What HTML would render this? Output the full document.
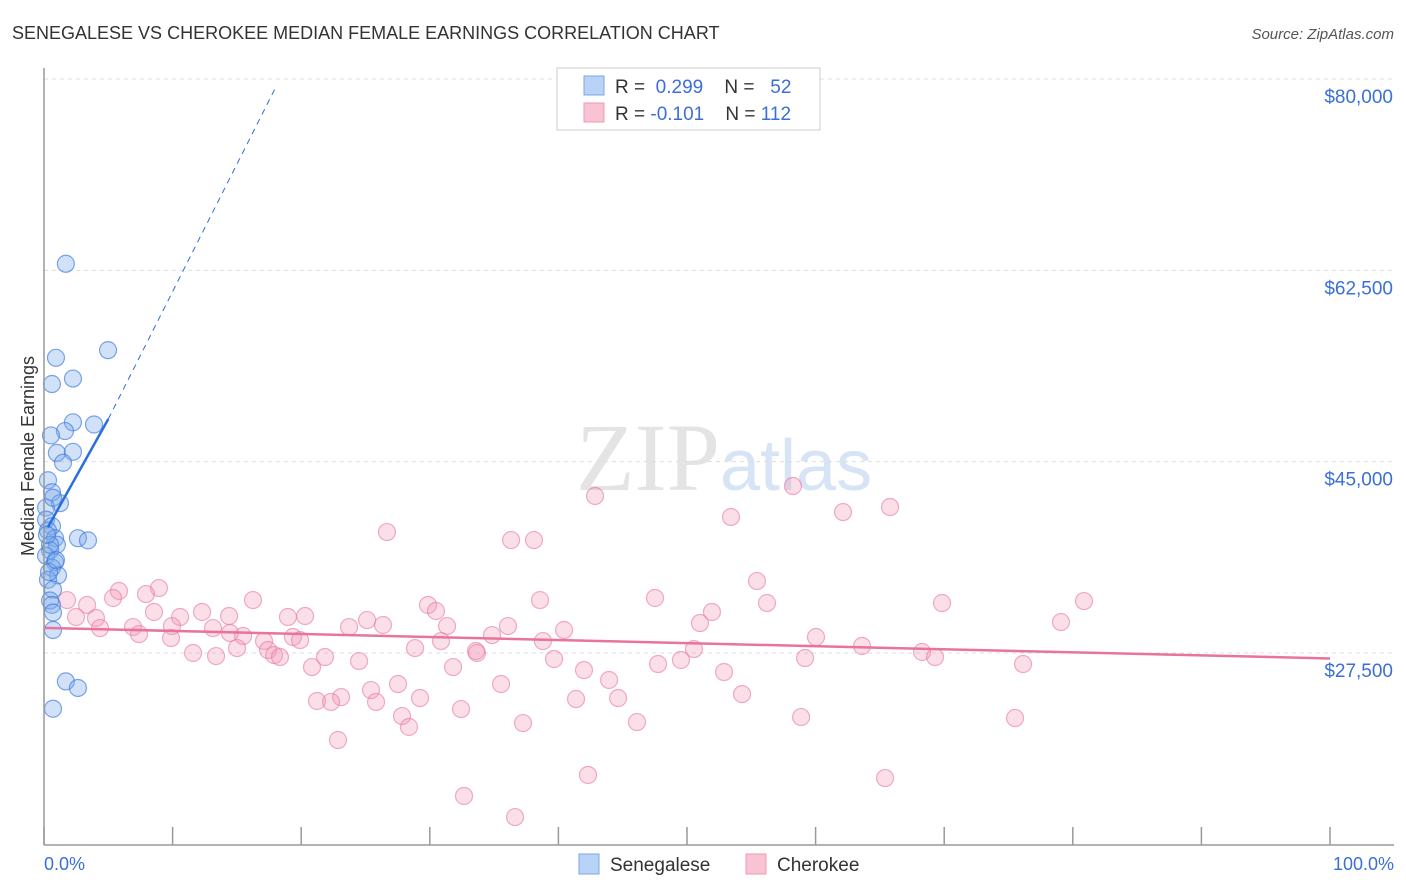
<!DOCTYPE html>
<html><head><meta charset="utf-8">
<style>
body{margin:0;background:#fff;font-family:"Liberation Sans",sans-serif;}
#wrap{position:relative;width:1406px;height:892px;overflow:hidden;}
</style></head>
<body>
<div id="wrap">
<svg id="svg" width="1406" height="892" xmlns="http://www.w3.org/2000/svg">
<text x="12" y="39" font-size="18" fill="#333">SENEGALESE VS CHEROKEE MEDIAN FEMALE EARNINGS CORRELATION CHART</text>
<text x="1394" y="39" font-size="15" fill="#555" text-anchor="end" font-style="italic">Source: ZipAtlas.com</text>
<text x="720" y="490" font-size="96" fill="#e4e4e4" text-anchor="end" font-family="Liberation Serif">ZIP</text>
<text x="720" y="490" font-size="72" fill="#d6e4f5">atlas</text>
<text transform="translate(34,456) rotate(-90)" font-size="18" fill="#333" text-anchor="middle">Median Female Earnings</text>
<g id="grid"></g><g id="ticks"></g><g id="pts"></g><g id="lines"></g>
<line x1="44" y1="68" x2="44" y2="845" stroke="#999" stroke-width="1.5"/>
<line x1="44" y1="845" x2="1394" y2="845" stroke="#999" stroke-width="1.5"/>
<text x="44" y="870" font-size="18" fill="#3a6fd8">0.0%</text>
<text x="1394" y="870" font-size="18" fill="#3a6fd8" text-anchor="end">100.0%</text>
<g>
<rect x="557" y="68" width="263" height="62" fill="#fff" stroke="#ccc"/>
<rect x="584" y="76" width="20" height="19" fill="#b8d3f5" stroke="#7aa7e6"/>
<rect x="584" y="103" width="20" height="19" fill="#f8c4d4" stroke="#ec9ab3"/>
<text x="615" y="93" font-size="19" fill="#333">R = <tspan fill="#3a6fd8">&#160;0.299</tspan>&#160;&#160;&#160;&#160;N = <tspan fill="#3a6fd8">&#160;&#160;52</tspan></text>
<text x="615" y="120" font-size="19" fill="#333">R = <tspan fill="#3a6fd8">-0.101</tspan>&#160;&#160;&#160;&#160;N = <tspan fill="#3a6fd8">112</tspan></text>
</g>
<g>
<rect x="579" y="854" width="20" height="20" fill="#b8d3f5" stroke="#7aa7e6"/>
<text x="610" y="871" font-size="19" fill="#333">Senegalese</text>
<rect x="746" y="854" width="20" height="20" fill="#f8c4d4" stroke="#ec9ab3"/>
<text x="777" y="871" font-size="19" fill="#333">Cherokee</text>
</g>
</svg>
</div>
<script>
const yTicks=[27500,45000,62500,80000];
const yTickLabels=["$27,500","$45,000","$62,500","$80,000"];
const xTicks=[0,10,20,30,40,50,60,70,80,90,100];
const senX=[1.7,4.98,0.93,0.62,2.25,2.25,1.63,3.89,0.54,1.0,2.25,1.48,0.31,0.62,1.24,0.16,0.7,0.16,0.62,0.31,0.86,2.64,3.42,1.0,0.47,0.16,0.86,0.62,1.09,0.31,0.7,0.47,0.62,0.7,0.7,1.7,2.64,0.7,0.47,0.23,0.39,0.93];
const senY=[63.1,55.2,54.5,52.1,52.6,48.6,47.8,48.4,47.4,45.8,45.9,44.9,43.3,42.2,41.2,40.8,41.7,39.7,39.1,38.7,38.0,38.0,37.8,37.4,36.9,36.4,35.8,35.3,34.6,34.2,33.3,32.3,31.9,31.2,29.6,24.9,24.3,22.4,37.4,38.3,34.9,36.0];
const cheX=[42.85,58.24,53.42,62.13,65.79,26.67,36.32,38.10,55.44,8.94,5.83,7.93,16.25,29.86,38.57,47.51,56.22,69.83,80.87,1.79,3.35,5.37,8.55,10.58,12.29,14.39,18.97,20.30,25.12,26.36,30.48,36.08,40.44,51.94,51.01,79.08,2.49,4.04,6.92,4.36,9.95,13.14,14.46,15.48,17.11,19.36,19.91,23.72,31.34,34.84,38.80,60.03,63.61,7.39,9.88,11.59,13.38,15.01,17.42,17.89,18.35,28.85,30.87,33.59,33.67,39.66,47.75,49.53,50.54,59.18,68.28,69.29,76.13,20.84,21.85,24.50,31.81,41.99,52.88,43.94,27.53,35.54,25.43,23.10,21.23,22.32,25.82,29.24,41.37,44.64,54.28,27.84,28.38,32.43,37.25,46.11,58.87,75.51,22.86,42.30,65.40,32.66,36.63];
const cheY=[41.86,42.77,39.94,40.39,40.85,38.56,37.83,37.83,34.08,33.44,33.17,32.89,32.34,31.89,32.34,32.53,32.07,32.07,32.25,32.34,31.89,32.53,31.25,30.79,31.25,30.88,30.79,30.88,30.51,30.06,31.34,29.96,29.60,31.25,30.24,30.33,30.79,30.70,29.87,29.78,29.96,29.78,29.33,29.05,28.59,28.96,28.68,29.87,29.96,29.14,28.59,28.96,28.14,29.23,28.87,27.50,27.22,27.95,27.77,27.31,27.13,27.95,28.59,27.68,27.50,26.95,26.49,26.86,27.86,27.04,27.59,27.13,26.49,26.21,27.13,26.76,26.21,25.94,25.76,25.03,24.66,24.66,24.11,23.47,23.11,23.02,23.02,23.38,23.29,23.38,23.74,21.73,20.73,22.37,21.09,21.18,21.64,21.55,19.54,16.34,16.06,14.42,12.49];
const senLine=[[0.3,39.0],[5.0,48.9]], senDash=[[5.0,48.9],[18.0,79.2]];
const cheLine=[[0,29.8],[100,27.0]];
const X=p=>44+p*12.86, Y=v=>79+(80-v)*10.933;
const NS="http://www.w3.org/2000/svg";
function mk(tag,attrs,parent){const e=document.createElementNS(NS,tag);for(const k in attrs)e.setAttribute(k,attrs[k]);document.getElementById(parent).appendChild(e);return e;}
yTicks.forEach((t,i)=>{
 const g=mk('line',{x1:44,x2:1394,y1:Y(t/1000),y2:Y(t/1000),stroke:'#ddd','stroke-dasharray':'4,4'},'grid');
 
 
 const l=mk('text',{x:1393,y:Y(t/1000)+24,'font-size':19,fill:'#3a6fd8','text-anchor':'end'},'grid');
 l.textContent=yTickLabels[i];
 
 
});
xTicks.forEach(t=>{
 const e=mk('line',{x1:X(t),x2:X(t),y1:827,y2:845,stroke:'#999','stroke-width':1.5},'ticks');
 
 
});
cheX.forEach((x,i)=>{
 const c=mk('circle',{cx:X(x),cy:Y(cheY[i]),r:8.5,fill:'rgba(243,150,180,0.3)',stroke:'rgba(232,120,160,0.6)','stroke-width':1.2},'pts');
 
 
});
senX.forEach((x,i)=>{
 const c=mk('circle',{cx:X(x),cy:Y(senY[i]),r:8.5,fill:'rgba(120,170,235,0.35)',stroke:'rgba(60,120,220,0.65)','stroke-width':1.2},'pts');
 
 
});
let a=mk('line',{x1:X(senLine[0][0]),y1:Y(senLine[0][1]),x2:X(senLine[1][0]),y2:Y(senLine[1][1]),stroke:'#2a6fdb','stroke-width':2.5},'lines');


a=mk('line',{x1:X(senDash[0][0]),y1:Y(senDash[0][1]),x2:X(senDash[1][0]),y2:Y(senDash[1][1]),stroke:'#2a6fdb','stroke-width':1,'stroke-dasharray':'6,5'},'lines');


a=mk('line',{x1:X(cheLine[0][0]),y1:Y(cheLine[0][1]),x2:X(cheLine[1][0]),y2:Y(cheLine[1][1]),stroke:'#e8739c','stroke-width':2.5},'lines');


</script>
</body></html>
